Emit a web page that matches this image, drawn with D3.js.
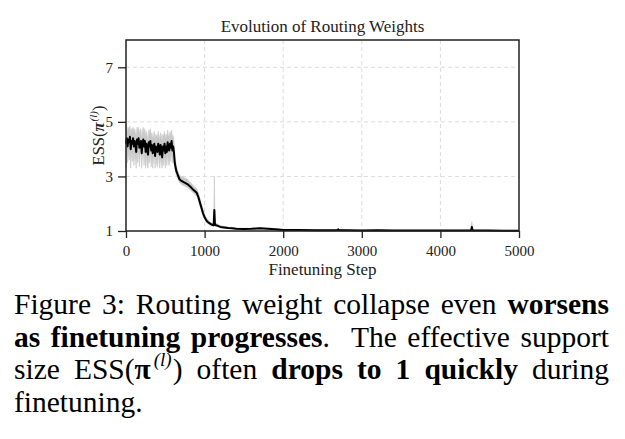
<!DOCTYPE html>
<html>
<head>
<meta charset="utf-8">
<script src="https://cdn.jsdelivr.net/npm/d3@7"></script>
<style>
body { margin: 0; background: #fff; width: 625px; height: 439px; overflow: hidden; position: relative; }
#chart { position: absolute; left: 0; top: 0; }
#caption { position: absolute; left: 14px; top: 288px; width: 595px; font-family: "Liberation Serif", "Times New Roman", serif;
  font-size: 29.5px; line-height: 32.5px; text-align: justify; color: #000; }
#caption b { font-weight: bold; }
#caption .sup { font-size: 19px; font-style: italic; position: relative; top: -13px; line-height: 0; margin-left: 3px; margin-right: 1px; }
</style>
</head>
<body>
<div id="chart"></div>
<div id="caption">Figure 3: Routing weight collapse even <b>worsens as finetuning progresses</b>. &nbsp;The effective support size ESS(<b>&pi;</b><span class="sup">(l)</span>) often <b>drops to 1 quickly</b> during finetuning.</div>
<script>
// finetuning steps (x) and ESS mean / min / max
var steps = [0,10,20,30,40,50,60,70,80,90,100,110,120,130,140,150,160,170,180,190,200,210,220,230,240,250,260,270,280,290,
  300,310,320,330,340,350,360,370,380,390,400,410,420,430,440,450,460,470,480,490,500,510,520,530,540,550,560,570,580,590,600,
  610,620,640,660,680,700,740,780,820,860,900,920,940,960,980,1000,1020,1040,1060,1080,1100,1115,1124,1132,1160,1200,1250,1300,1350,1400,
  1500,1600,1700,1800,1900,2000,2200,2400,2600,2690,2700,2710,2800,3000,3200,3400,3600,3800,4000,4200,4390,4400,4410,4600,4800,5000];
var meanVals = [4.2,4.4,4.1,4.35,4.25,4.45,4.0,4.3,4.2,4.4,
  4.1,4.3,4.15,3.9,4.35,4.2,4.4,4.05,4.25,4.3,
  3.85,4.2,4.35,4.1,4.3,3.9,4.2,4.0,3.8,4.25,
  4.1,4.3,3.95,4.15,3.85,4.05,4.2,3.75,4.1,4.0,
  3.9,4.2,4.05,3.8,4.15,4.0,3.7,4.1,3.95,4.2,
  3.85,4.1,3.9,4.25,4.0,3.95,4.2,4.05,4.3,3.95,4.1,
  3.9,3.5,3.2,3.05,2.9,2.85,2.78,2.72,2.62,2.5,2.4,2.25,2.05,1.85,1.65,1.5,1.4,1.33,1.29,1.25,1.22,1.21,1.77,1.22,1.2,1.15,
  1.13,1.11,1.1,1.08,1.07,1.08,1.1,1.08,1.06,1.04,1.04,1.03,1.03,1.03,1.06,1.03,1.03,1.02,1.03,1.02,1.02,1.02,1.02,1.02,1.02,
  1.15,1.02,1.02,1.01,1.01];
var lowVals = [3.3,4.0,3.5,3.95,3.6,4.05,3.3,3.9,3.55,4.0,
  3.4,3.9,3.6,3.3,3.95,3.5,4.0,3.35,3.85,3.9,
  3.3,3.8,3.95,3.4,3.9,3.3,3.8,3.4,3.3,3.85,
  3.5,3.9,3.35,3.75,3.3,3.6,3.8,3.3,3.7,3.45,
  3.35,3.8,3.5,3.3,3.75,3.45,3.3,3.7,3.4,3.8,
  3.3,3.7,3.4,3.85,3.5,3.4,3.8,3.55,3.9,3.5,3.7,
  3.6,3.3,3.05,2.9,2.78,2.72,2.65,2.6,2.5,2.38,2.28,2.12,1.92,1.74,1.55,1.42,1.33,1.27,1.24,1.2,1.18,1.17,1.2,1.18,1.16,1.12,
  1.1,1.09,1.08,1.06,1.05,1.06,1.08,1.06,1.04,1.03,1.03,1.02,1.02,1.02,1.02,1.02,1.02,1.01,1.02,1.01,1.01,1.01,1.01,1.01,1.01,
  1.01,1.01,1.01,1.0,1.0];
var highVals = [4.9,4.85,4.6,4.8,4.7,4.85,4.55,4.75,4.7,4.8,
  4.6,4.75,4.6,4.45,4.8,4.65,4.8,4.55,4.7,4.75,
  4.35,4.65,4.8,4.55,4.75,4.4,4.65,4.5,4.3,4.7,
  4.6,4.75,4.45,4.6,4.35,4.5,4.65,4.3,4.55,4.5,
  4.4,4.65,4.5,4.3,4.6,4.5,4.25,4.55,4.45,4.65,
  4.35,4.55,4.4,4.7,4.5,4.45,4.65,4.5,4.7,4.45,4.5,
  4.3,3.75,3.4,3.2,3.05,3.0,2.95,2.9,2.78,2.65,2.55,2.4,2.2,2.0,1.8,1.62,1.5,1.42,1.36,1.31,1.28,1.27,3.0,1.3,1.27,1.2,
  1.17,1.14,1.13,1.11,1.1,1.11,1.13,1.11,1.09,1.06,1.06,1.05,1.05,1.05,1.1,1.05,1.05,1.04,1.05,1.04,1.04,1.04,1.04,1.04,1.04,
  1.35,1.04,1.04,1.03,1.03];
var xTicks = [0,1000,2000,3000,4000,5000];
var yTicks = [1,3,5,7];

var data = steps.map(function (s, i) { return {x: s, m: meanVals[i], lo: lowVals[i], hi: highVals[i]}; });

var W = 625, H = 285;
var padL = 126, padR = 519, padT = 40, padB = 231;
var serif = "'Liberation Serif', 'Times New Roman', serif";

var svg = d3.select("#chart").append("svg").attr("width", W).attr("height", H);

var x = d3.scaleLinear().domain([0, 5000]).range([padL, padR]);
var y = d3.scaleLinear().domain([1, 8]).range([padB, padT]);

// grid
svg.append("g").selectAll("line").data(xTicks.slice(1, -1)).enter().append("line")
  .attr("x1", function (d) { return x(d); }).attr("x2", function (d) { return x(d); })
  .attr("y1", padT).attr("y2", padB)
  .attr("stroke", "#dcdcdc").attr("stroke-width", 1).attr("stroke-dasharray", "4,3");
svg.append("g").selectAll("line").data(yTicks.slice(1)).enter().append("line")
  .attr("x1", padL).attr("x2", padR)
  .attr("y1", function (d) { return y(d); }).attr("y2", function (d) { return y(d); })
  .attr("stroke", "#dcdcdc").attr("stroke-width", 1).attr("stroke-dasharray", "4,3");

// band + mean
svg.append("path").datum(data)
  .attr("fill", "#c8c8c8").attr("stroke", "#c8c8c8").attr("stroke-width", 0.6)
  .attr("d", d3.area().x(function (d) { return x(d.x); }).y0(function (d) { return y(d.lo); }).y1(function (d) { return y(d.hi); }));
svg.append("path").datum(data)
  .attr("fill", "none").attr("stroke", "#000").attr("stroke-width", 2).attr("stroke-linejoin", "round")
  .attr("d", d3.line().x(function (d) { return x(d.x); }).y(function (d) { return y(d.m); }));

// axes
var xAxis = d3.axisBottom(x).tickValues(xTicks).tickSize(7).tickPadding(7).tickFormat(d3.format("d"));
var yAxis = d3.axisLeft(y).tickValues(yTicks).tickSize(8).tickPadding(5).tickFormat(d3.format("d"));
var gx = svg.append("g").attr("transform", "translate(0," + padB + ")").call(xAxis);
var gy = svg.append("g").attr("transform", "translate(" + padL + ",0)").call(yAxis);
[gx, gy].forEach(function (g) {
  g.select(".domain").remove();
  g.selectAll(".tick line").attr("stroke", "#222").attr("stroke-width", 1.3);
  g.selectAll(".tick text").attr("font-family", serif).attr("font-size", 15).attr("fill", "#222");
});

// frame
svg.append("rect").attr("x", padL).attr("y", padT).attr("width", padR - padL).attr("height", padB - padT)
  .attr("fill", "none").attr("stroke", "#222").attr("stroke-width", 1.5);

// labels
svg.append("text").attr("x", (padL + padR) / 2).attr("y", 32).attr("text-anchor", "middle")
  .attr("font-family", serif).attr("font-size", 17).attr("fill", "#222").text("Evolution of Routing Weights");
svg.append("text").attr("x", (padL + padR) / 2).attr("y", 275).attr("text-anchor", "middle")
  .attr("font-family", serif).attr("font-size", 17).attr("fill", "#222").text("Finetuning Step");

var yl = svg.append("text").attr("transform", "translate(104," + ((padT + padB) / 2) + ") rotate(-90)")
  .attr("text-anchor", "middle").attr("font-family", serif).attr("font-size", 16.5).attr("fill", "#222");
yl.append("tspan").text("ESS(");
yl.append("tspan").attr("font-weight", "bold").attr("font-style", "italic").text("\u03C0");
yl.append("tspan").attr("font-size", 11).attr("font-style", "italic").attr("dx", 1).attr("dy", -7).text("(l)");
yl.append("tspan").attr("dy", 7).text(")");
</script>
</body>
</html>
